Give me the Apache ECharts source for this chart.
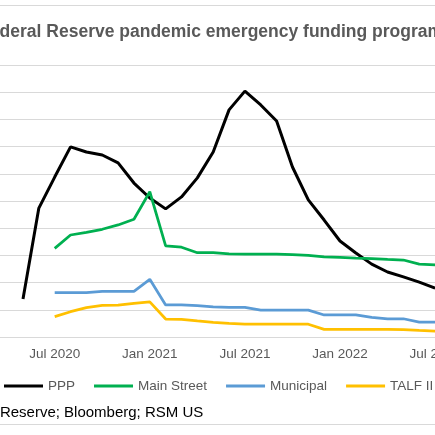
<!DOCTYPE html>
<html>
<head>
<meta charset="utf-8">
<script src="https://cdn.jsdelivr.net/npm/echarts@6/dist/echarts.min.js"></script>
<style>
	html,body{margin:0;padding:0;width:435px;height:435px;overflow:hidden;background:#fff;}
	#wrap{position:relative;width:435px;height:435px;overflow:hidden;}
	/* the chart is wider than the window; the window shows its middle part */
	#chart{position:absolute;left:-129px;top:0;width:690px;height:435px;}
</style>
</head>
<body>
<div id="wrap"><div id="chart"></div></div>
<script>
var months = ['Mar 2020','Apr 2020','May 2020','Jun 2020','Jul 2020','Aug 2020','Sep 2020','Oct 2020','Nov 2020','Dec 2020',
	'Jan 2021','Feb 2021','Mar 2021','Apr 2021','May 2021','Jun 2021','Jul 2021','Aug 2021','Sep 2021','Oct 2021','Nov 2021','Dec 2021',
	'Jan 2022','Feb 2022','Mar 2022','Apr 2022','May 2022','Jun 2022','Jul 2022','Aug 2022','Sep 2022'];

var ppp = [null,null,14.0,47.4,58.8,69.9,68.0,66.9,64.0,56.6,
	51.1,47.1,51.5,58.5,68.0,83.5,90.4,85.3,79.4,62.5,50.4,43.0,
	35.3,30.9,26.8,23.9,22.1,20.2,18.0,null,null];
var mainStreet = [null,null,null,null,32.6,37.5,38.5,39.6,41.2,43.3,
	53.4,33.5,33.0,31.0,31.0,30.6,30.5,30.5,30.5,30.3,30.0,29.5,
	29.3,29.0,28.8,28.5,28.3,26.8,26.5,null,null];
var municipal = [null,null,null,null,16.3,16.3,16.3,16.8,16.8,16.8,
	21.2,11.8,11.8,11.5,11.1,10.9,10.9,9.9,9.9,9.9,9.9,8.1,
	8.1,8.1,7.2,6.7,6.7,5.5,5.5,null,null];
var talf = [null,null,null,null,7.5,9.3,10.8,11.6,11.7,12.4,
	12.9,6.6,6.5,5.9,5.4,5.0,4.7,4.7,4.7,4.7,4.7,2.8,
	2.8,2.8,2.8,2.8,2.7,2.4,2.2,null,null];

var seriesNames = ['PPP','Main Street','Municipal','TALF II'];
var colors = ['#000000','#00b050','#5b9bd5','#ffc000'];

var font = 'Liberation Sans, Arial, sans-serif';
var myChart = echarts.init(document.getElementById('chart'));

function line(name,data,w){
	return {
		name:name,
		type:'line',
		data:data,
		symbol:'none',
		connectNulls:false,
		lineStyle:{width:w},
		z:2
	};
}

myChart.setOption({
	animation:false,
	color:colors,
	title:{
		text:'Federal Reserve pandemic emergency funding programs',
		left:'center',
		top:18,
		textStyle:{fontFamily:font,fontSize:17.5,fontWeight:'bold',color:'#595959'}
	},
	legend:{
		data:seriesNames,
		left:128,
		top:374,
		icon:'rect',
		itemWidth:39,
		itemHeight:3,
		itemGap:19,
		textStyle:{fontFamily:font,fontSize:13.5,color:'#595959'}
	},
	grid:{left:120.3,right:94.2,top:65,bottom:98},
	xAxis:{
		type:'category',
		data:months,
		boundaryGap:false,
		axisLine:{lineStyle:{color:'#d9d9d9',width:1}},
		axisTick:{show:false},
		axisLabel:{
			interval:function(i,v){ return v.indexOf('Jan')===0 || v.indexOf('Jul')===0; },
			fontFamily:font,fontSize:13.5,color:'#595959',margin:10
		},
		splitLine:{show:false}
	},
	yAxis:{
		type:'value',
		min:0,
		max:100,
		interval:10,
		axisLine:{show:false},
		axisTick:{show:false},
		axisLabel:{show:false},
		splitLine:{lineStyle:{color:'#d9d9d9',width:1}}
	},
	graphic:[
		{type:'rect',shape:{x:0.5,y:5.5,width:689,height:419},style:{fill:'none',stroke:'#d9d9d9',lineWidth:1},silent:true},
		{type:'text',left:18,top:405,style:{text:'Source: Federal Reserve; Bloomberg; RSM US',fontFamily:font,fontSize:15,fill:'#000'}}
	],
	series:[
		line('PPP',ppp,3),
		line('Main Street',mainStreet,2.75),
		line('Municipal',municipal,2.75),
		line('TALF II',talf,2.75)
	]
});
</script>
</body>
</html>
